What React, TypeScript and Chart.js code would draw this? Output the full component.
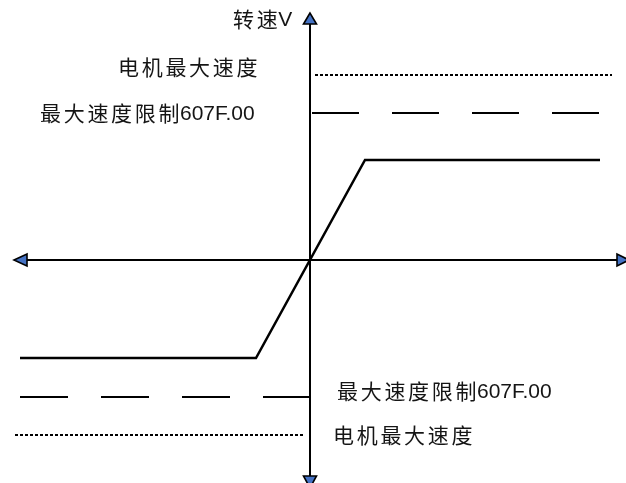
import React, { useEffect, useRef } from "react";
import { Chart, registerables } from "chart.js";

Chart.register(...registerables);

// Diagram data (speed units on y, command units on x)
const xRange = [-310, 316];
const yRange = [-223, 260];
const xAxisLine = [{ x: -283, y: 0 }, { x: 307, y: 0 }];
const yAxisLine = [{ x: 0, y: 236 }, { x: 0, y: -216 }];
const speedCurve = [
  { x: -290, y: -98 },
  { x: -54, y: -98 },
  { x: 55, y: 100 },
  { x: 290, y: 100 },
];
const limitTop = [{ x: 2, y: 147 }, { x: 290, y: 147 }];
const limitBottom = [{ x: -290, y: -137 }, { x: 0, y: -137 }];
const motorMaxTop = [{ x: 5, y: 185 }, { x: 302, y: 185 }];
const motorMaxBottom = [{ x: -295, y: -175 }, { x: -5, y: -175 }];

// Text labels: [cjk part, latin part, x, y]
const labels: [string, string, number, number][] = [
  ["转速", "V", -77, 241],
  ["电机最大速度", "", -192, 193],
  ["最大速度限制", "607F.00", -270, 147],
  ["最大速度限制", "607F.00", 27, -131],
  ["电机最大速度", "", 23, -175],
];

const CJK_FONT = '21px "Noto Sans CJK SC", "Noto Sans", sans-serif';
const LATIN_FONT = '21px "Liberation Sans", Arial, sans-serif';
const SPACING = 2.7;

const arrowPlugin = {
  id: "arrowsAndLabels",
  afterDatasetsDraw(chart: any) {
    const ctx = chart.ctx;
    const xs = chart.scales.x;
    const ys = chart.scales.y;
    const px = (v: number) => xs.getPixelForValue(v);
    const py = (v: number) => ys.getPixelForValue(v);
    const cx = px(0);
    const cy = py(0);
    const tri = (pts: number[][]) => {
      ctx.save();
      ctx.beginPath();
      ctx.moveTo(pts[0][0], pts[0][1]);
      ctx.lineTo(pts[1][0], pts[1][1]);
      ctx.lineTo(pts[2][0], pts[2][1]);
      ctx.closePath();
      ctx.fillStyle = "#4472C4";
      ctx.fill();
      ctx.lineWidth = 1.6;
      ctx.strokeStyle = "#000";
      ctx.lineJoin = "miter";
      ctx.stroke();
      ctx.restore();
    };
    const top = py(236);
    const bottom = py(-216);
    const left = px(-283);
    const right = px(307);
    tri([[cx, top - 11], [cx - 6.5, top], [cx + 6.5, top]]);
    tri([[cx, bottom + 12], [cx - 6.5, bottom], [cx + 6.5, bottom]]);
    tri([[left - 13, cy], [left, cy - 6], [left, cy + 6]]);
    tri([[right + 12, cy], [right, cy - 6], [right, cy + 6]]);

    ctx.save();
    ctx.fillStyle = "#151515";
    ctx.textBaseline = "middle";
    ctx.textAlign = "left";
    for (const [cjk, latin, lx, ly] of labels) {
      let x = px(lx);
      const y = py(ly);
      ctx.font = CJK_FONT;
      (ctx as any).letterSpacing = SPACING + "px";
      ctx.fillText(cjk, x, y);
      x += ctx.measureText(cjk).width - SPACING + 0.5;
      (ctx as any).letterSpacing = "0px";
      if (latin) {
        ctx.font = LATIN_FONT;
        ctx.fillText(latin, x, y + 1);
      }
    }
    ctx.restore();
  },
};

export default function App() {
  const ref = useRef<HTMLCanvasElement>(null);
  useEffect(() => {
    if (!ref.current) return;
    const base = { pointRadius: 0, fill: false, tension: 0, borderColor: "#000" };
    const chart = new Chart(ref.current, {
      type: "line",
      data: {
        datasets: [
          { ...base, data: xAxisLine, borderWidth: 2 },
          { ...base, data: yAxisLine, borderWidth: 2 },
          { ...base, data: speedCurve, borderWidth: 2.5 },
          { ...base, data: limitTop, borderWidth: 2, borderDash: [47, 33] },
          { ...base, data: limitBottom, borderWidth: 2, borderDash: [48, 33] },
          { ...base, data: motorMaxTop, borderWidth: 1.8, borderDash: [3, 2] },
          { ...base, data: motorMaxBottom, borderWidth: 1.8, borderDash: [3, 2] },
        ] as any,
      },
      options: {
        animation: false,
        responsive: true,
        maintainAspectRatio: false,
        layout: { padding: 0 },
        plugins: { legend: { display: false }, tooltip: { enabled: false } },
        scales: {
          x: { type: "linear", display: false, min: xRange[0], max: xRange[1] },
          y: { type: "linear", display: false, min: yRange[0], max: yRange[1] },
        },
        elements: { line: { borderCapStyle: "butt" } },
      },
      plugins: [arrowPlugin],
    });
    return () => chart.destroy();
  }, []);
  return (
    <div style={{ position: "fixed", left: 0, top: 0, width: 626, height: 483, background: "#fff" }}>
      <canvas ref={ref} />
    </div>
  );
}
